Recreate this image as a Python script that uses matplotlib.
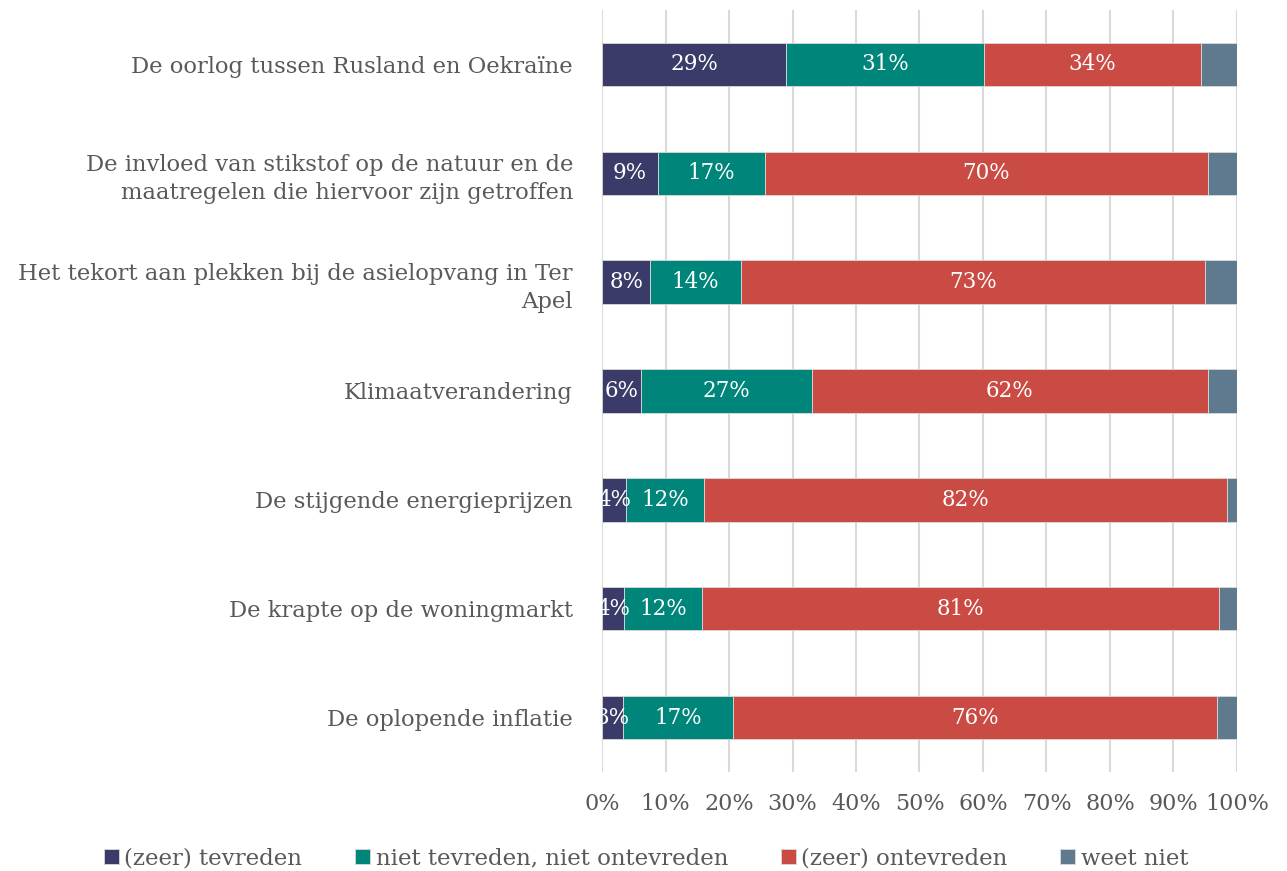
import numpy as np
import matplotlib.pyplot as plt

categories = [
    "De oorlog tussen Rusland en Oekraïne",
    "De invloed van stikstof op de natuur en de\nmaatregelen die hiervoor zijn getroffen",
    "Het tekort aan plekken bij de asielopvang in Ter\nApel",
    "Klimaatverandering",
    "De stijgende energieprijzen",
    "De krapte op de woningmarkt",
    "De oplopende inflatie",
]
tevreden = [29.0, 8.8, 7.6, 6.1, 3.8, 3.5, 3.3]
neutraal = [31.2, 16.9, 14.3, 27.0, 12.3, 12.2, 17.4]
ontevreden = [34.1, 69.7, 73.1, 62.3, 82.3, 81.4, 76.2]
weet_niet = [5.7, 4.6, 5.0, 4.6, 1.6, 2.9, 3.1]

series = [
    ("(zeer) tevreden", tevreden, "#3a3b68", True),
    ("niet tevreden, niet ontevreden", neutraal, "#00857a", True),
    ("(zeer) ontevreden", ontevreden, "#c94b43", True),
    ("weet niet", weet_niet, "#5f7a8e", False),
]

plt.rcParams['font.family'] = ['DejaVu Serif']
grey = "#595959"

fig = plt.figure(figsize=(12.87, 8.71), dpi=100)
ax = fig.add_axes([0.4678, 0.1137, 0.4933, 0.8748])

y = np.arange(len(categories))
left = np.zeros(len(categories))
for name, vals, col, show in series:
    vals = np.array(vals)
    ax.barh(y, vals, left=left, height=0.4, color=col, label=name,
            edgecolor="#d9d9d9", linewidth=0.6, zorder=3)
    if show:
        for yi, l, v in zip(y, left, vals):
            ax.text(l + v / 2, yi, "%d%%" % round(v), ha="center", va="center",
                    color="white", fontsize=15.5, zorder=4)
    left += vals

ax.set_xlim(0, 100)
ax.set_ylim(len(categories) - 0.5, -0.5)
ax.set_xticks(np.arange(0, 101, 10))
ax.set_xticklabels(["%d%%" % t for t in range(0, 101, 10)])
ax.set_yticks(y)
ax.set_yticklabels(categories, fontsize=16.3, color=grey, ha="right", linespacing=1.35)
ax.tick_params(axis="x", colors=grey, labelsize=16, length=0, pad=15)
ax.tick_params(axis="y", length=0, pad=21)
ax.grid(axis="x", color="#d9d9d9", linewidth=1.5, zorder=0)
for s in ax.spines.values():
    s.set_visible(False)

fig.legend(loc="lower center", bbox_to_anchor=(0.502, -0.022), ncol=4, frameon=False,
           fontsize=16.5, labelcolor=grey, handlelength=0.65, handleheight=0.65,
           handletextpad=0.25, columnspacing=2.3)

fig.savefig("out.png", dpi=100)
